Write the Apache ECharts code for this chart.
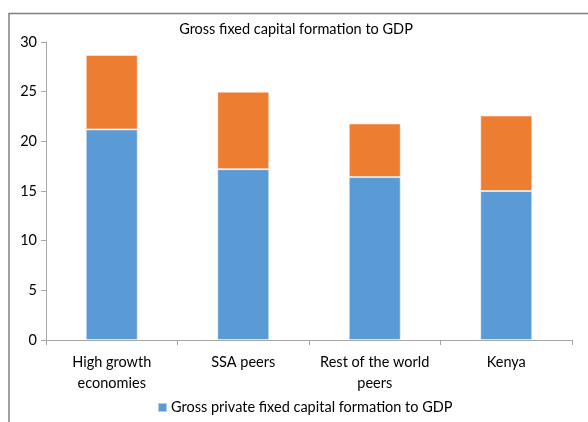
<!DOCTYPE html>
<html>
<head>
<meta charset="utf-8">
<script src="https://cdn.jsdelivr.net/npm/echarts@6/dist/echarts.min.js"></script>
<style>
html,body{margin:0;padding:0;background:#fff;}
#chart{width:588px;height:422px;}
</style>
</head>
<body>
<div id="chart"></div>
<script>
var categories = ['High growth\neconomies', 'SSA peers', 'Rest of the world\npeers', 'Kenya'];
var privateValues = [21.2, 17.2, 16.4, 15.0];
var publicValues = [7.5, 7.8, 5.4, 7.6];
var yTicks = [0, 5, 10, 15, 20, 25, 30];

var chart = echarts.init(document.getElementById('chart'), null, {renderer: 'canvas'});
var fontFamily = 'Lato, "Open Sans", sans-serif';
chart.setOption({
  animation: false,
  backgroundColor: '#fff',
  title: {
    text: 'Gross fixed capital formation to GDP',
    left: 296, top: 22, textAlign: 'center', padding: 0,
    textStyle: {fontFamily: fontFamily, fontSize: 14.5, fontWeight: 'normal', color: '#000'}
  },
  graphic: [{
    type: 'polyline',
    shape: {points: [[9, 430], [9, 13.5], [600, 13.5]]},
    style: {stroke: '#808080', lineWidth: 1.5, fill: null}
  }],
  legend: {
    data: ['Gross private fixed capital formation to GDP'],
    left: 157, top: 400, padding: 0,
    itemWidth: 9, itemHeight: 9, itemGap: 5,
    textStyle: {fontFamily: fontFamily, fontSize: 14.5, color: '#000', padding: [0, 0, 0, -1]},
    icon: 'rect'
  },
  grid: {left: 46, right: 16, top: 42, bottom: 82},
  xAxis: {
    type: 'category',
    data: categories,
    axisLine: {lineStyle: {color: '#a6a6a6', width: 1}},
    axisTick: {show: true, length: 5, lineStyle: {color: '#a6a6a6'}},
    axisLabel: {fontFamily: fontFamily, fontSize: 14.5, color: '#000', margin: 12, lineHeight: 21, interval: 0}
  },
  yAxis: {
    type: 'value',
    min: yTicks[0], max: yTicks[yTicks.length - 1], interval: 5,
    splitLine: {show: false},
    axisLine: {show: true, lineStyle: {color: '#a6a6a6', width: 1}},
    axisTick: {show: true, length: 5, lineStyle: {color: '#a6a6a6'}},
    axisLabel: {fontFamily: fontFamily, fontSize: 14.5, color: '#000', margin: 9}
  },
  series: [{
    name: 'Gross private fixed capital formation to GDP',
    type: 'bar', stack: 'total', data: privateValues, barWidth: 52,
    itemStyle: {color: '#5B9BD5', borderColor: 'rgba(255,255,255,0.5)', borderWidth: 1}
  }, {
    name: 'Gross public fixed capital formation to GDP',
    type: 'bar', stack: 'total', data: publicValues, barWidth: 52,
    itemStyle: {color: '#ED7D31', borderColor: 'rgba(255,255,255,0.5)', borderWidth: 1}
  }]
});
</script>
</body>
</html>
